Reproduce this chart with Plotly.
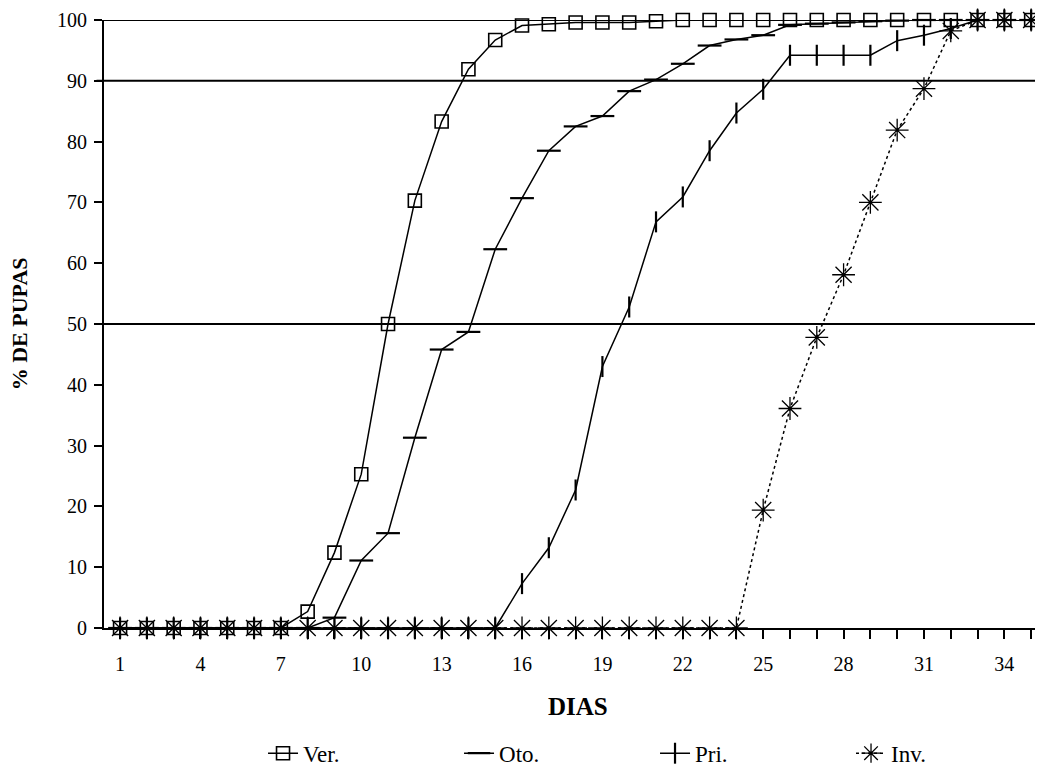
import plotly.graph_objects as go

days = list(range(1, 36))
tick_labels = [str(d) if (d - 1) % 3 == 0 else "" for d in days]

ver = [0, 0, 0, 0, 0, 0, 0, 2.7, 12.4, 25.3, 50.0, 70.3, 83.3, 91.9, 96.7, 99.1,
       99.3, 99.6, 99.6, 99.6, 99.8, 100, 100, 100, 100, 100, 100, 100, 100, 100,
       100, 100, 100, 100, 100]
oto = [0, 0, 0, 0, 0, 0, 0, 0, 1.7, 11.1, 15.6, 31.3, 45.8, 48.7, 62.3, 70.7,
       78.5, 82.5, 84.2, 88.3, 90.2, 92.8, 95.8, 96.8, 97.5, 99.2, 99.4, 99.6,
       99.8, 99.9, 100, 100, 100, 100, 100]
pri = [0, 0, 0, 0, 0, 0, 0, 0, 0, 0, 0, 0, 0, 0, 0, 7.3, 13.2, 22.7, 43.0, 52.8,
       66.8, 70.9, 78.5, 84.7, 88.6, 94.2, 94.2, 94.2, 94.2, 96.6, 97.5, 98.6,
       100, 100, 100]
inv = [0] * 24 + [19.4, 36.1, 47.8, 58.1, 70.0, 81.9, 88.7, 98.2, 100, 100, 100]

ref_lines = [50, 90, 100]

SERIF = "Liberation Serif, DejaVu Serif, Times New Roman, serif"

fig = go.Figure()
fig.add_trace(go.Scatter(
    x=days, y=ver, name="Ver.", mode="lines+markers",
    line=dict(color="black", width=1.5),
    marker=dict(symbol="square-open", size=13, color="black", line=dict(width=1.6)),
    cliponaxis=False))
fig.add_trace(go.Scatter(
    x=days, y=oto, name="Oto.", mode="lines+markers",
    line=dict(color="black", width=1.5),
    marker=dict(symbol="line-ew", size=17, color="black", line=dict(width=2.2, color="black")),
    cliponaxis=False))
fig.add_trace(go.Scatter(
    x=days, y=pri, name="Pri.", mode="lines+markers",
    line=dict(color="black", width=1.5),
    marker=dict(symbol="line-ns", size=15, color="black", line=dict(width=2.2, color="black")),
    cliponaxis=False))
fig.add_trace(go.Scatter(
    x=days, y=inv, name="Inv.", mode="lines+markers",
    line=dict(color="black", width=1.5, dash="3px,3px"),
    marker=dict(symbol="asterisk-open", size=19, color="black", line=dict(width=1.3, color="black")),
    cliponaxis=False))

for v in ref_lines:
    fig.add_shape(type="line", xref="paper", yref="y", x0=-0.008, x1=1, y0=v, y1=v,
                  line=dict(color="black", width=2), layer="below")
fig.add_shape(type="line", xref="paper", yref="y", x0=1, x1=1, y0=90, y1=100,
              line=dict(color="black", width=1.5), layer="below")

fig.update_layout(
    width=1035, height=762,
    margin=dict(l=96, r=3, t=12, b=142, autoexpand=False),
    paper_bgcolor="white", plot_bgcolor="white",
    font=dict(family=SERIF, color="black", size=20),
    showlegend=True,
    legend=dict(orientation="h", xref="container", yref="container",
                x=0.2464, y=0.022, xanchor="left", yanchor="middle",
                entrywidth=151, entrywidthmode="pixels",
                font=dict(family=SERIF, size=23, color="black"),
                bgcolor="rgba(0,0,0,0)"),
    xaxis=dict(range=[0.4, 35.33], tickmode="array", tickvals=days, ticktext=tick_labels,
               ticks="outside", ticklen=9, tickwidth=1.5, tickcolor="black",
               showline=True, linecolor="black", linewidth=2, showgrid=False,
               zeroline=False, tickfont=dict(family=SERIF, size=20),
               ticklabelstandoff=8, automargin=False),
    yaxis=dict(range=[0, 100], tickmode="linear", tick0=0, dtick=10,
               ticks="outside", ticklen=8, tickwidth=1.5, tickcolor="black",
               showline=True, linecolor="black", linewidth=2, showgrid=False,
               zeroline=False, tickfont=dict(family=SERIF, size=20),
               ticklabelstandoff=3, automargin=False),
    annotations=[
        dict(text="<b>DIAS</b>", xref="paper", yref="paper", x=0.506, y=-0.129,
             xanchor="center", yanchor="middle", showarrow=False,
             font=dict(family=SERIF, size=25, color="black")),
        dict(text="<b>% DE PUPAS</b>", xref="paper", yref="paper", x=-0.0905, y=0.5,
             xanchor="center", yanchor="middle", showarrow=False, textangle=-90,
             font=dict(family=SERIF, size=22, color="black")),
    ],
)

fig.write_html("out.html")
